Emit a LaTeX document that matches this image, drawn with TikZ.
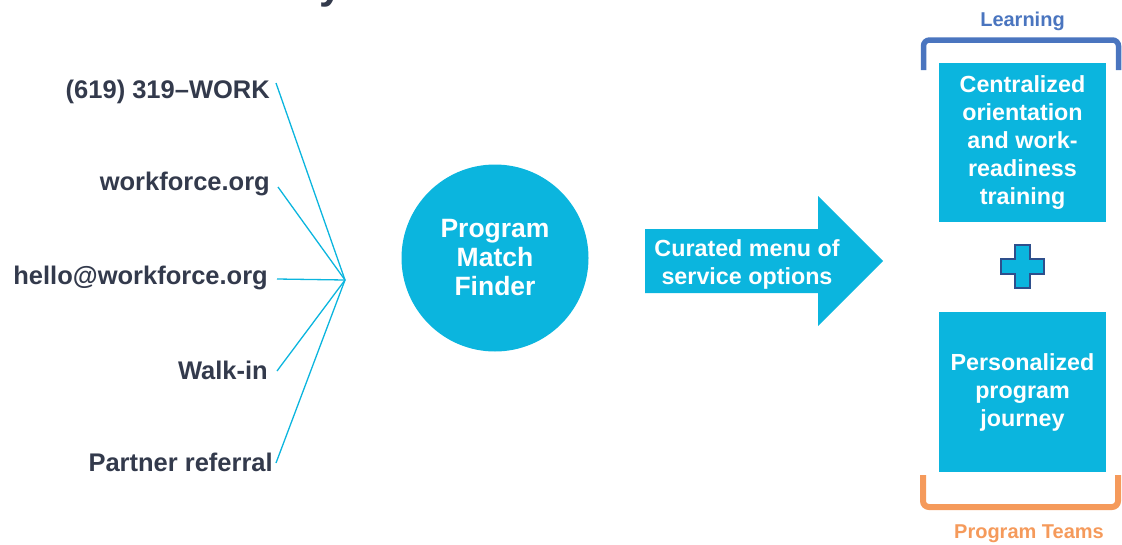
\documentclass[tikz,border=0pt]{standalone}
\usepackage{fontspec}
\setmainfont{Liberation Sans}
\usetikzlibrary{calc}
\definecolor{brandcyan}{RGB}{11,181,222}
\definecolor{inkdark}{RGB}{51,58,76}
\definecolor{learnblue}{RGB}{74,117,191}
\definecolor{teamorange}{RGB}{245,154,91}
\definecolor{plusedge}{RGB}{46,79,140}
\begin{document}
\begin{tikzpicture}[x=1pt,y=-1pt,
  channel/.style={anchor=base east,inner sep=0pt,text=inkdark,font=\fontsize{25.5}{30}\selectfont\bfseries},
  feed/.style={draw=brandcyan,line width=1.3pt},
  bluefill/.style={fill=brandcyan,draw=none,text=white},
  boxtext/.style={align=center,font=\fontsize{23.3}{28}\selectfont\bfseries},
  bracket/.style={line width=5.5pt,rounded corners=6pt,line cap=butt}]
\useasboundingbox (0,0) rectangle (1122,544);
\clip (0,0) rectangle (1122,544);

% page heading, mostly above the visible area
\node[anchor=base east,inner sep=0pt,text=inkdark,font=\fontsize{42}{46}\selectfont\bfseries] (heading) at (343,-1.5) {Customer Journey};

% contact channels
\node[channel] (phone)   at (270,98)  {(619) 319–WORK};
\node[channel] (web)     at (270,190) {workforce.org};
\node[channel] (mail)    at (268,284) {hello@workforce.org};
\node[channel] (walk)    at (268,379) {Walk-in};
\node[channel] (partner) at (273,471) {Partner referral};
\coordinate (hub) at (345,280);

\draw[feed] ([xshift=6pt,yshift=15pt]phone.base east) -- (hub);
\draw[feed] ([xshift=8pt,yshift=3pt]web.base east) -- (hub);
\draw[feed] ([xshift=9pt,yshift=5pt]mail.base east) -- (hub);
\draw[feed] ([xshift=9pt,yshift=8pt]walk.base east) -- (hub);
\draw[feed] ([xshift=3pt,yshift=8pt]partner.base east) -- (hub);

% matching step
\node[circle,bluefill,minimum size=187pt,inner sep=0pt,align=center,
      font=\fontsize{26.5}{29}\selectfont\bfseries] (finder) at (495,258)
      {Program\\Match\\Finder};

% curated menu arrow
\coordinate (a1) at (645,229);
\coordinate (a2) at (818,229);
\coordinate (a3) at (818,196);
\coordinate (tip) at (883,261);
\coordinate (a5) at (818,326);
\coordinate (a6) at (818,293);
\coordinate (a7) at (645,293);
\fill[brandcyan] (a1) -- (a2) -- (a3) -- (tip) -- (a5) -- (a6) -- (a7) -- cycle;
\node[boxtext,text=white,inner sep=0pt] (menu) at (747,264)
      {Curated menu of\\service options};

% learning and program team boxes
\node[bluefill,boxtext,minimum width=167pt,minimum height=159pt,inner sep=0pt] (central)
      at (1022.5,142.5) {Centralized\\orientation\\and work-\\readiness\\training};
\node[bluefill,boxtext,minimum width=167pt,minimum height=160pt,inner sep=0pt] (personal)
      at (1022.5,392) {Personalized\\program\\journey};

% plus sign between the boxes
\filldraw[fill=brandcyan,draw=plusedge,line width=1.5pt]
  (1015,245) -- (1030,245) -- (1030,259) -- (1044,259) -- (1044,274) -- (1030,274)
  -- (1030,288) -- (1015,288) -- (1015,274) -- (1001,274) -- (1001,259) -- (1015,259) -- cycle;

% brackets and their captions
\draw[bracket,learnblue] (923.5,70) -- (923.5,40) -- (1118.5,40) -- (1118.5,70);
\node[anchor=base,inner sep=0pt,text=learnblue,font=\fontsize{20}{24}\selectfont\bfseries]
      (learning) at (1022.5,26) {Learning};
\draw[bracket,teamorange,line width=6pt] (923,475) -- (923,507) -- (1118,507) -- (1118,475);
\node[anchor=base,inner sep=0pt,text=teamorange,font=\fontsize{20}{24}\selectfont\bfseries]
      (teams) at (1029,538) {Program Teams};
\end{tikzpicture}
\end{document}
